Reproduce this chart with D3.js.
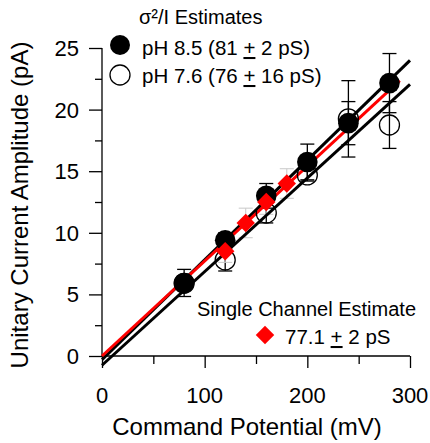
<!DOCTYPE html>
<html>
<head>
<meta charset="utf-8">
<script src="https://cdn.jsdelivr.net/npm/d3@7"></script>
<style>
  body { margin: 0; background: #fff; }
  text { font-family: "Liberation Sans", Arial, sans-serif; fill: #000; }
</style>
</head>
<body>
<div id="chart"></div>
<script>
// command potentials (mV)
var potentials = [80, 120, 160, 200, 240, 280];
// sigma^2/I estimates, pH 8.5 (filled) and pH 7.6 (open)
var ph85_amp = [5.93, 9.4, 13.0, 15.75, 18.9, 22.15];
var ph85_err = [1.1, 0.6, 1.0, 1.45, 1.75, 2.4];
var ph76_amp = [5.9, 7.8, 11.6, 14.7, 19.25, 18.75];
var ph76_err = [0.6, 0.9, 0.8, 0.5, 3.1, 1.9];
// single channel estimate
var sc_potentials = [120, 140, 160, 180];
var sc_amp = [8.5, 10.8, 12.5, 14.0];
var sc_err = [0.9, 1.2, 1.0, 1.2];
// fitted lines: slope (pA/mV), intercept (pA), x range
var fits = [
  {slope: 0.081, icpt: -0.3, x0: 0, x1: 300, color: "#000"},
  {slope: 0.076, icpt: -0.75, x0: 0, x1: 300, color: "#000"},
  {slope: 0.0771, icpt: 0.0, x0: 0, x1: 290, color: "#f00"}
];
var xTicks = [0, 100, 200, 300];
var yTicks = [0, 5, 10, 15, 20, 25];

var width = 430, height = 443;
var svg = d3.select("#chart").append("svg")
    .attr("width", width).attr("height", height);

var x = d3.scaleLinear().domain([0, 300]).range([102, 410]);
var y = d3.scaleLinear().domain([0, 25]).range([356, 48]);

// axes: major ticks with labels, minor ticks between
var xAxis = svg.append("g").attr("transform", "translate(0,356)");
xAxis.call(d3.axisBottom(x).tickValues(d3.range(0, 301, 50)).tickSize(8).tickFormat(""));
xAxis.call(function (g) {
  g.selectAll(".tick").filter(function (d) { return d % 100 === 0; })
    .select("line").attr("y2", 12);
});
xAxis.select(".domain").attr("d", "M102,0H410");
var yAxis = svg.append("g").attr("transform", "translate(102,0)");
yAxis.call(d3.axisLeft(y).tickValues(d3.range(0, 25.1, 2.5)).tickSize(7).tickFormat(""));
yAxis.call(function (g) {
  g.selectAll(".tick").filter(function (d) { return d % 5 === 0; })
    .select("line").attr("x2", -13);
});
yAxis.select(".domain").attr("d", "M0,48V356");
svg.selectAll(".domain, .tick line").attr("stroke", "#000").attr("stroke-width", 1.3);

svg.selectAll(".xlab").data(xTicks).enter().append("text")
    .attr("x", function (d) { return x(d); })
    .attr("y", 403)
    .attr("text-anchor", "middle")
    .style("font-size", "22px")
    .text(function (d) { return d; });
svg.selectAll(".ylab").data(yTicks).enter().append("text")
    .attr("x", 79)
    .attr("y", function (d) { return y(d) + 8; })
    .attr("text-anchor", "end")
    .style("font-size", "22px")
    .text(function (d) { return d; });

svg.append("text")
    .attr("x", 247).attr("y", 435)
    .attr("text-anchor", "middle")
    .style("font-size", "24px")
    .text("Command Potential (mV)");
svg.append("text")
    .attr("transform", "translate(28,205) rotate(-90)")
    .attr("text-anchor", "middle")
    .style("font-size", "24px")
    .text("Unitary Current Amplitude (pA)");

// error bars
function errorBars(xs, ys, es, color, w) {
  var g = svg.append("g").attr("stroke", color).attr("stroke-width", w);
  xs.forEach(function (v, i) {
    var top = y(ys[i] + es[i]), bot = y(ys[i] - es[i]);
    g.append("line").attr("x1", x(v)).attr("x2", x(v)).attr("y1", top).attr("y2", bot);
    g.append("line").attr("x1", x(v) - 7).attr("x2", x(v) + 7).attr("y1", top).attr("y2", top);
    g.append("line").attr("x1", x(v) - 7).attr("x2", x(v) + 7).attr("y1", bot).attr("y2", bot);
  });
}
errorBars(potentials, ph85_amp, ph85_err, "#000", 1.3);
errorBars(potentials, ph76_amp, ph76_err, "#000", 1.3);
errorBars(sc_potentials, sc_amp, sc_err, "#c8c8c8", 1);

// regression lines
svg.selectAll(".fit").data(fits).enter().append("line")
    .attr("x1", function (d) { return x(d.x0); })
    .attr("y1", function (d) { return y(d.slope * d.x0 + d.icpt); })
    .attr("x2", function (d) { return x(d.x1); })
    .attr("y2", function (d) { return y(d.slope * d.x1 + d.icpt); })
    .attr("stroke", function (d) { return d.color; })
    .attr("stroke-width", 3);

svg.selectAll(".open").data(potentials).enter().append("circle")
    .attr("cx", function (d) { return x(d); })
    .attr("cy", function (d, i) { return y(ph76_amp[i]); })
    .attr("r", 10)
    .attr("fill", "none").attr("stroke", "#000").attr("stroke-width", 1.3);
svg.selectAll(".filled").data(potentials).enter().append("circle")
    .attr("cx", function (d) { return x(d); })
    .attr("cy", function (d, i) { return y(ph85_amp[i]); })
    .attr("r", 10.3)
    .attr("fill", "#000");

var diamond = d3.symbol().type(d3.symbolSquare).size(170);
svg.selectAll(".sc").data(sc_potentials).enter().append("path")
    .attr("d", diamond)
    .attr("transform", function (d, i) { return "translate(" + x(d) + "," + y(sc_amp[i]) + ") rotate(45)"; })
    .attr("fill", "#f00");

// legends
function pmText(xp, yp, before, after) {
  var el = svg.append("text").attr("x", xp).attr("y", yp).style("font-size", "20.5px");
  el.append("tspan").text(before);
  el.append("tspan").style("text-decoration", "underline").text("+");
  el.append("tspan").text(after);
  return el;
}
svg.append("text").attr("x", 139).attr("y", 24).style("font-size", "20px").text("σ²/I Estimates");
svg.append("circle").attr("cx", 120).attr("cy", 45).attr("r", 10).attr("fill", "#000");
pmText(142, 55, "pH 8.5 (81 ", " 2 pS)");
svg.append("circle").attr("cx", 120).attr("cy", 75).attr("r", 10)
    .attr("fill", "none").attr("stroke", "#000").attr("stroke-width", 1.3);
pmText(142, 83, "pH 7.6 (76 ", " 16 pS)");

svg.append("text").attr("x", 197).attr("y", 316).style("font-size", "20px").text("Single Channel Estimate");
svg.append("path").attr("d", diamond)
    .attr("transform", "translate(265,335) rotate(45)").attr("fill", "#f00");
pmText(285, 344, "77.1 ", " 2 pS");
</script>
</body>
</html>
